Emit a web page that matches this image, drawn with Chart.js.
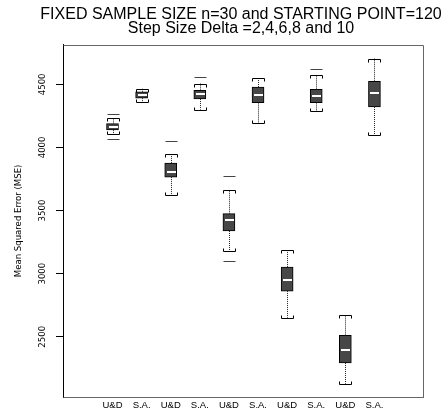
<!DOCTYPE html>
<html>
<head>
<meta charset="utf-8">
<script src="https://cdn.jsdelivr.net/npm/chart.js@4.4.0/dist/chart.umd.min.js"></script>
<style>
  html, body { margin: 0; padding: 0; background: #fff; }
  #wrap { width: 446px; height: 412px; }
</style>
</head>
<body>
<div id="wrap"><canvas id="mseBox" width="446" height="412"></canvas></div>
<script>
// boxplot stats (n=30, start=120, delta 2..10)
const categories = ["U&D", "S.A.", "U&D", "S.A.", "U&D", "S.A.", "U&D", "S.A.", "U&D", "S.A."];
const lowerWhisker = [4104, 4357, 3620, 4300, 3179, 4193, 2651, 4286, 2128, 4096];
const q1 = [4139, 4390, 3765, 4384, 3338, 4355, 2862, 4355, 2292, 4320];
const median = [4163, 4413, 3808, 4426, 3428, 4418, 2952, 4407, 2398, 4434];
const q3 = [4189, 4441, 3876, 4452, 3475, 4479, 3052, 4460, 2511, 4524];
const upperWhisker = [4231, 4465, 3945, 4506, 3660, 4550, 3190, 4571, 2670, 4704];
const outliers = [[4262, 4064], [], [4051], [4556], [3771, 3097], [], [], [4624], [], []];
const yTicks = [2500, 3000, 3500, 4000, 4500];

const titleLines = ["FIXED SAMPLE SIZE n=30 and STARTING POINT=120", "Step Size Delta =2,4,6,8 and 10"];
const yTitle = "Mean Squared Error (MSE)";

Chart.defaults.font.family = "'Liberation Sans', Arial, sans-serif";
Chart.defaults.color = "#000";
const narrow = "'Liberation Sans Narrow', 'DejaVu Sans Condensed', 'Liberation Sans', sans-serif";

// whiskers, staples, medians and outlier dashes
const boxExtras = {
    id: "boxExtras",
    afterDatasetsDraw(chart) {
        const ctx = chart.ctx;
        const xs = chart.scales.x, ys = chart.scales.y;
        const half = 6;
        ctx.save();
        for (let i = 0; i < categories.length; i++) {
            const x = Math.round(xs.getPixelForValue(i + 1)) + 0.5;
            const yLo = ys.getPixelForValue(lowerWhisker[i]);
            const yQ1 = ys.getPixelForValue(q1[i]);
            const yMed = ys.getPixelForValue(median[i]);
            const yQ3 = ys.getPixelForValue(q3[i]);
            const yHi = ys.getPixelForValue(upperWhisker[i]);

            // dotted whiskers
            ctx.strokeStyle = "#222";
            ctx.lineWidth = 1;
            ctx.setLineDash([1, 1]);
            ctx.beginPath();
            ctx.moveTo(x, yQ3); ctx.lineTo(x, yHi);
            ctx.moveTo(x, yQ1); ctx.lineTo(x, yLo);
            ctx.stroke();
            ctx.setLineDash([]);

            // staples with little end hooks
            const hi = Math.round(yHi) + 0.5, lo = Math.round(yLo) + 0.5;
            ctx.strokeStyle = "#000";
            ctx.beginPath();
            ctx.moveTo(x - half, hi + 3); ctx.lineTo(x - half, hi); ctx.lineTo(x + half, hi); ctx.lineTo(x + half, hi + 3);
            ctx.moveTo(x - half, lo - 3); ctx.lineTo(x - half, lo); ctx.lineTo(x + half, lo); ctx.lineTo(x + half, lo - 3);
            ctx.stroke();

            // median
            ctx.strokeStyle = "#fff";
            ctx.lineWidth = 2;
            ctx.beginPath();
            ctx.moveTo(x - half + 1.5, Math.round(yMed)); ctx.lineTo(x + half - 1.5, Math.round(yMed));
            ctx.stroke();

            // outliers drawn as dashes
            ctx.strokeStyle = "#444";
            ctx.lineWidth = 1;
            outliers[i].forEach(v => {
                const y = Math.round(ys.getPixelForValue(v)) + 0.5;
                ctx.beginPath();
                ctx.moveTo(x - half, y); ctx.lineTo(x + half, y);
                ctx.stroke();
            });
        }
        ctx.restore();
    }
};

// grey box round the plot region (left side is the black y axis)
const plotFrame = {
    id: "plotFrame",
    beforeDatasetsDraw(chart) {
        const { ctx, chartArea: a } = chart;
        ctx.save();
        ctx.strokeStyle = "#666";
        ctx.lineWidth = 1;
        ctx.beginPath();
        const l = Math.round(a.left) + 0.5, r = Math.round(a.right) + 0.5;
        const t = Math.round(a.top) + 0.5, b = Math.round(a.bottom) + 0.5;
        ctx.moveTo(l, t); ctx.lineTo(r, t); ctx.lineTo(r, b); ctx.lineTo(l, b);
        ctx.stroke();
        ctx.restore();
    }
};

const boxData = categories.map((c, i) => ({ x: i + 1, y: [q1[i], q3[i]] }));

const config = {
    type: "bar",
    data: {
        datasets: [{
            label: "MSE",
            data: boxData,
            backgroundColor: "#474747",
            borderColor: "#000",
            borderWidth: 1,
            borderSkipped: false,
            barThickness: 12
        }]
    },
    options: {
        responsive: false,
        animation: false,
        // title is centred over the plot, so the page is shifted right
        layout: { padding: { left: 36, right: 0, top: 0, bottom: 0 } },
        plugins: {
            legend: { display: false },
            tooltip: { enabled: false },
            title: {
                display: true,
                text: titleLines,
                color: "#000",
                font: { size: 16, weight: "normal", lineHeight: 0.9 },
                padding: { top: 7, bottom: 9 }
            }
        },
        scales: {
            x: {
                type: "linear",
                min: -0.0825,
                max: 11.05,
                afterBuildTicks: s => { s.ticks = categories.map((c, i) => ({ value: i + 1 })); },
                afterFit: s => { s.height = 15; },
                ticks: {
                    callback: v => categories[v - 1],
                    font: { size: 9.5 },
                    padding: 3,
                    maxRotation: 0,
                    autoSkip: false
                },
                grid: { display: false, drawTicks: false },
                border: { color: "#666" }
            },
            y: {
                min: 2023,
                max: 4813,
                afterBuildTicks: s => { s.ticks = yTicks.map(v => ({ value: v })); },
                afterFit: s => { s.width = 27; },
                ticks: {
                    callback: v => String(v),
                    font: { size: 9.5, family: narrow },
                    minRotation: 90,
                    maxRotation: 90,
                    crossAlign: "center",
                    padding: 3
                },
                grid: { drawOnChartArea: false, color: "#000", tickLength: 7 },
                border: { color: "#000" },
                title: {
                    display: true,
                    text: yTitle,
                    font: { size: 9.5, family: narrow },
                    padding: { top: -23.5, bottom: 0 }
                }
            },
            // empty right margin, keeps the plot edge at 423px
            yRight: {
                type: "linear",
                position: "right",
                afterFit: s => { s.width = 23; },
                ticks: { display: false },
                grid: { display: false },
                border: { display: false }
            }
        }
    },
    plugins: [plotFrame, boxExtras]
};

new Chart(document.getElementById("mseBox"), config);
</script>
</body>
</html>
